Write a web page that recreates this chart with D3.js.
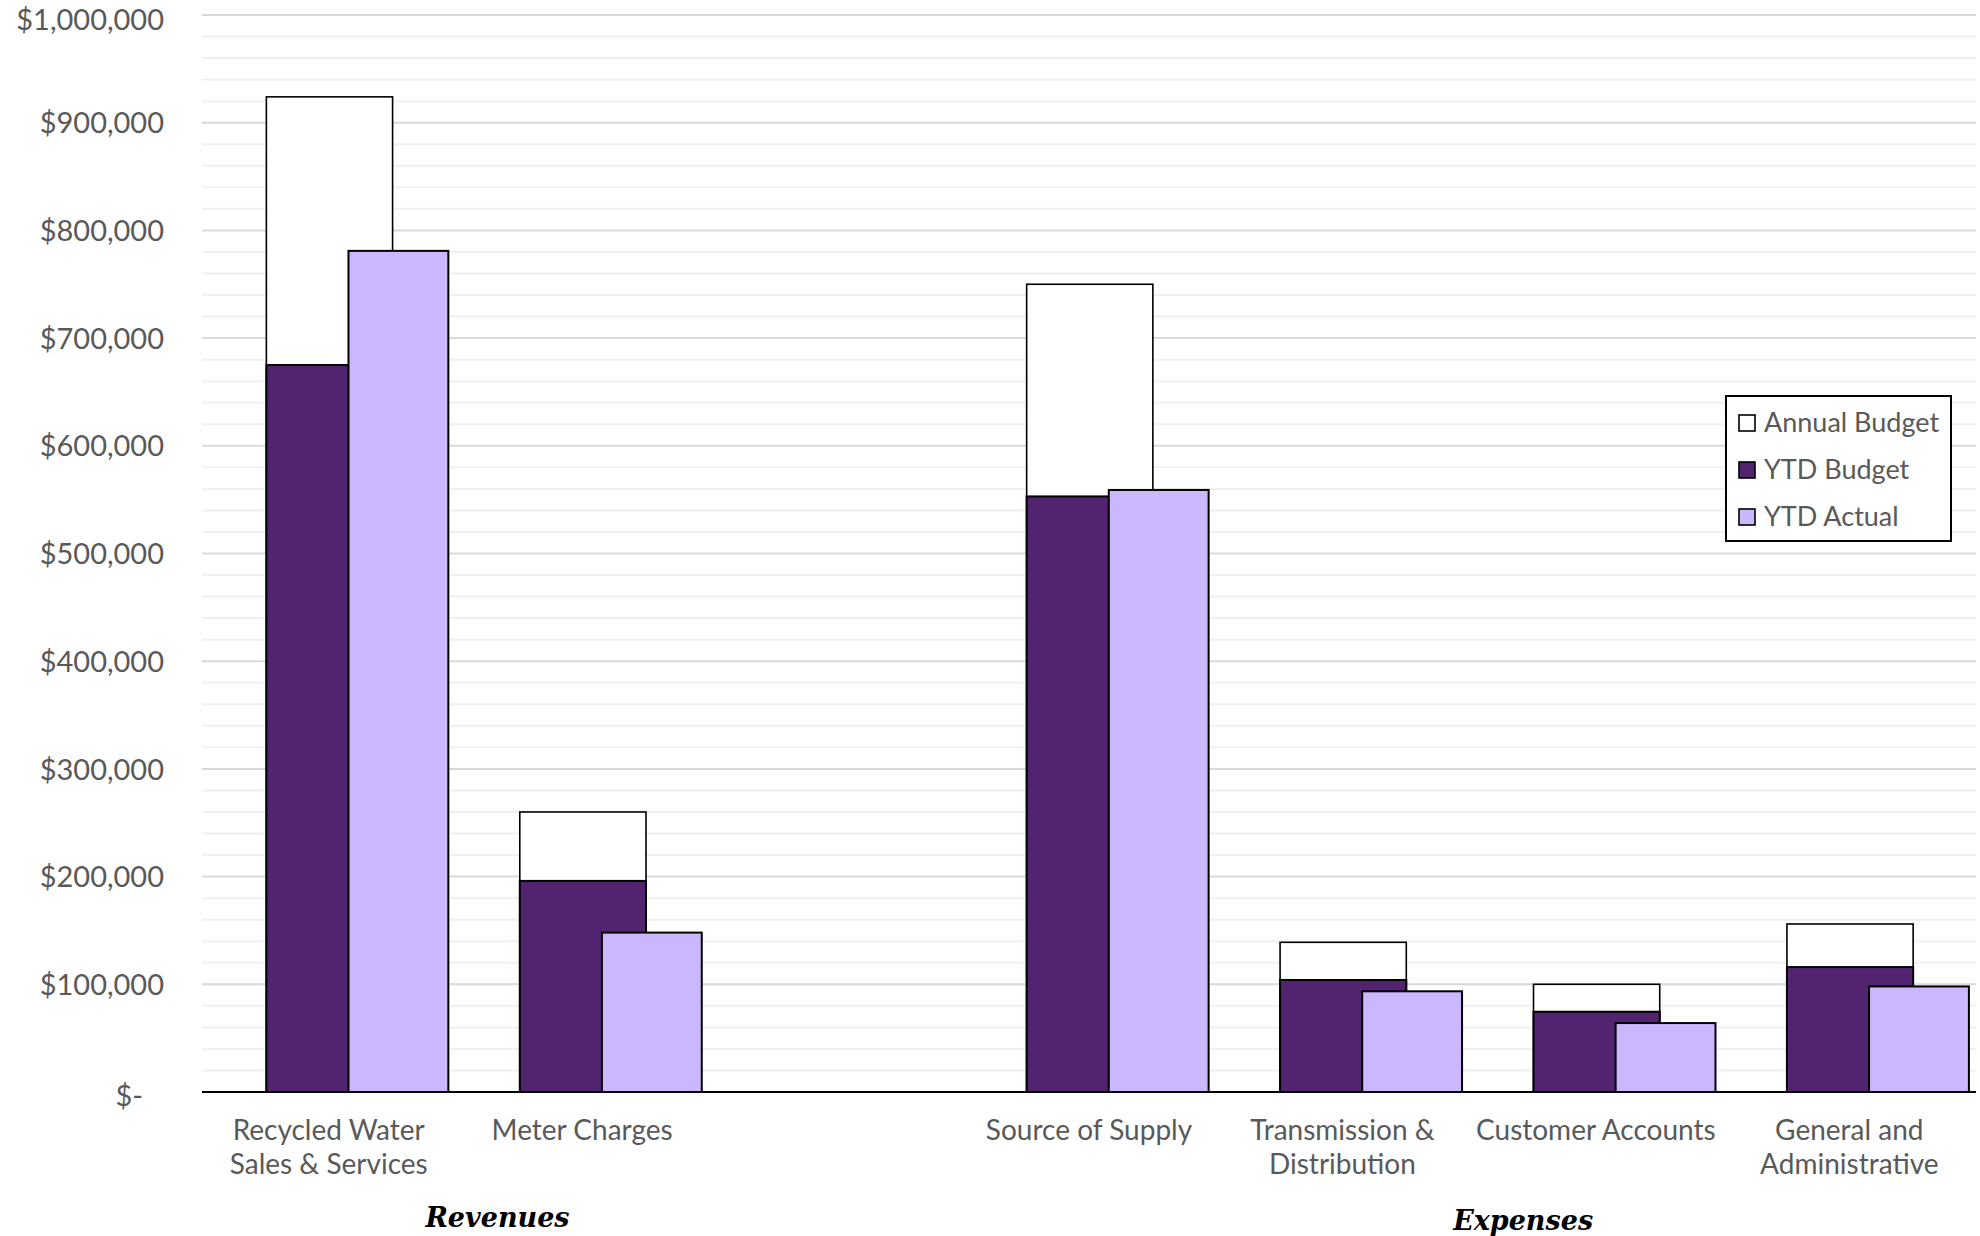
<!DOCTYPE html>
<html>
<head>
<meta charset="utf-8">
<script src="https://cdn.jsdelivr.net/npm/d3@7"></script>
<style>
  html, body { margin: 0; padding: 0; background: #fff; }
  svg { display: block; }
</style>
</head>
<body>
<svg id="chart" width="1980" height="1236"></svg>
<script>
// Budget vs. actual by category (an empty slot separates revenues from expenses)
const categories = [
  ["Recycled Water", "Sales & Services"],
  ["Meter Charges"],
  [],
  ["Source of Supply"],
  ["Transmission &", "Distribution"],
  ["Customer Accounts"],
  ["General and", "Administrative"]
];
const annualBudget = [924000, 260000, null, 750000, 139000, 100000, 156000];
const ytdBudget    = [675000, 196000, null, 553000, 104000, 74500, 116000];
const ytdActual    = [781000, 148000, null, 559000, 93500, 64000, 98000];
const yTicks = [0, 100000, 200000, 300000, 400000, 500000, 600000, 700000, 800000, 900000, 1000000];
const seriesNames = ["Annual Budget", "YTD Budget", "YTD Actual"];
const groupLabels = [
  { text: "Revenues", pos: 1.166 },
  { text: "Expenses", pos: 5.213 }
];

const colors = { annual: "#ffffff", budget: "#52236f", actual: "#cbb7fe" };
const labelFont = "Lato, 'Open Sans', sans-serif";

const svg = d3.select("#chart");
const plotLeft = 202, plotRight = 1976, plotTop = 15, plotBottom = 1092;

const x = d3.scaleBand().domain(d3.range(categories.length)).range([plotLeft, plotRight]).padding(0);
const y = d3.scaleLinear().domain([0, 1000000]).range([plotBottom, plotTop]);
const B = x.bandwidth();

// gridlines: light minor lines every 20k, darker major lines every 100k
const minor = d3.range(0, 1000001, 20000).filter(v => v % 100000 !== 0);
svg.append("g").selectAll("line").data(minor).join("line")
  .attr("x1", plotLeft).attr("x2", plotRight)
  .attr("y1", d => y(d)).attr("y2", d => y(d))
  .attr("stroke", "#f0f0f0").attr("stroke-width", 2);
svg.append("g").selectAll("line").data(yTicks.filter(v => v > 0)).join("line")
  .attr("x1", plotLeft).attr("x2", plotRight)
  .attr("y1", d => y(d)).attr("y2", d => y(d))
  .attr("stroke", "#d9d9d9").attr("stroke-width", 2);

// y axis labels (accounting style, zero shown as "$-")
const fmt = d => d === 0 ? "$-" : "$" + d3.format(",")(d);
const yAxis = d3.axisLeft(y).tickValues(yTicks).tickFormat(fmt).tickSize(0).tickPadding(38);
const yg = svg.append("g").attr("transform", `translate(${plotLeft},0)`).call(yAxis);
yg.select(".domain").remove();
yg.selectAll("text")
  .attr("font-family", labelFont).attr("font-size", 29).attr("fill", "#595959")
  .attr("dx", d => d === 0 ? -21 : 0)
  .attr("dy", d => d === 0 ? "0.45em" : d === 1000000 ? "0.5em" : "0.35em");

// bars
const idx = d3.range(categories.length).filter(i => annualBudget[i] != null);
const barStroke = "#000";

svg.append("g").selectAll("rect").data(idx).join("rect")
  .attr("x", i => x(i) + 0.254 * B).attr("width", 0.498 * B)
  .attr("y", i => y(annualBudget[i])).attr("height", i => y(0) - y(annualBudget[i]))
  .attr("fill", colors.annual).attr("stroke", barStroke).attr("stroke-width", 1.6);

svg.append("g").selectAll("rect").data(idx).join("rect")
  .attr("x", i => x(i) + 0.254 * B).attr("width", 0.498 * B)
  .attr("y", i => y(ytdBudget[i])).attr("height", i => y(0) - y(ytdBudget[i]))
  .attr("fill", colors.budget).attr("stroke", barStroke).attr("stroke-width", 2);

svg.append("g").selectAll("rect").data(idx).join("rect")
  .attr("x", i => x(i) + 0.578 * B).attr("width", 0.394 * B)
  .attr("y", i => y(ytdActual[i])).attr("height", i => y(0) - y(ytdActual[i]))
  .attr("fill", colors.actual).attr("stroke", barStroke).attr("stroke-width", 2);

// baseline
svg.append("line")
  .attr("x1", plotLeft).attr("x2", plotRight).attr("y1", y(0)).attr("y2", y(0))
  .attr("stroke", "#000").attr("stroke-width", 2);

// category labels
const xl = svg.append("g").selectAll("text").data(idx).join("text")
  .attr("x", i => x(i) + B / 2)
  .attr("text-anchor", "middle")
  .attr("font-family", labelFont).attr("font-size", 28).attr("fill", "#595959");
xl.selectAll("tspan").data(i => categories[i]).join("tspan")
  .attr("x", function () { return d3.select(this.parentNode).attr("x"); })
  .attr("y", (d, k) => 1140 + k * 34)
  .text(d => d);

// group labels
svg.append("g").selectAll("text").data(groupLabels).join("text")
  .attr("x", d => plotLeft + d.pos * B)
  .attr("y", (d, k) => 1227 + k * 3)
  .attr("text-anchor", "middle")
  .attr("font-family", "'DejaVu Serif', 'Liberation Serif', serif")
  .attr("font-weight", "bold").attr("font-style", "italic")
  .attr("font-size", 27).attr("fill", "#000")
  .text(d => d.text);

// legend
const lg = svg.append("g").attr("transform", "translate(1726,396)");
lg.append("rect").attr("width", 225).attr("height", 145)
  .attr("fill", "#fff").attr("stroke", "#000").attr("stroke-width", 2);
const legendFill = [colors.annual, colors.budget, colors.actual];
const items = lg.selectAll("g").data(seriesNames).join("g")
  .attr("transform", (d, k) => `translate(13,${27 + k * 47})`);
items.append("rect").attr("x", 0).attr("y", -8).attr("width", 16).attr("height", 16)
  .attr("fill", (d, k) => legendFill[k]).attr("stroke", "#000").attr("stroke-width", 1.6);
items.append("text").attr("x", 25).attr("dy", "0.35em")
  .attr("font-family", labelFont).attr("font-size", 27).attr("fill", "#595959")
  .text(d => d);
</script>
</body>
</html>
